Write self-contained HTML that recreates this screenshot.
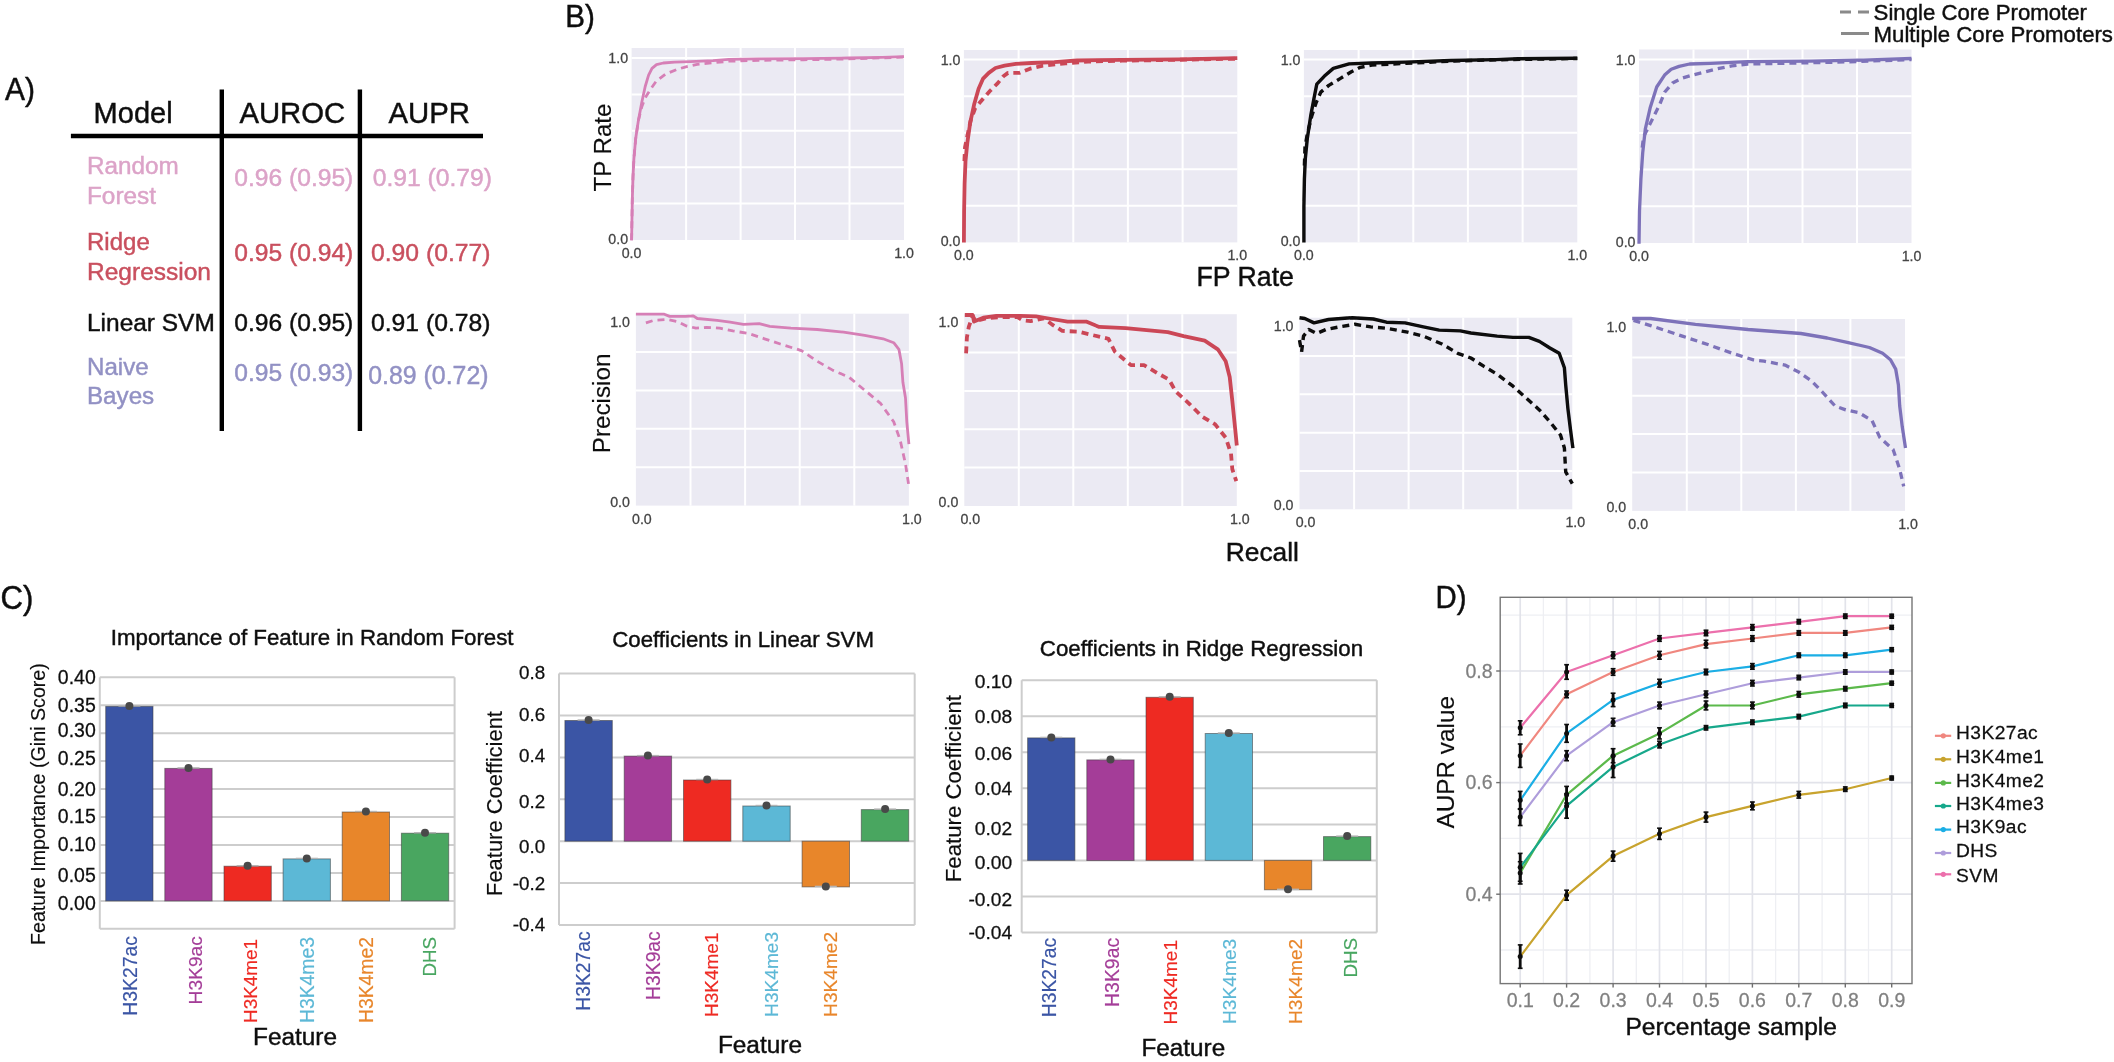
<!DOCTYPE html>
<html><head><meta charset="utf-8"><title>Figure</title>
<style>
html,body{margin:0;padding:0;background:#fff;}
svg{display:block;font-family:"Liberation Sans",Arial,Helvetica,sans-serif;}
</style></head><body>
<svg width="2114" height="1062" viewBox="0 0 2114 1062">
<defs><filter id="soft" x="0" y="0" width="2114" height="1062" filterUnits="userSpaceOnUse"><feGaussianBlur stdDeviation="0.55"/></filter></defs>
<rect width="2114" height="1062" fill="#ffffff"/>
<g filter="url(#soft)">
<text transform="translate(5.0 99.6) scale(1 1.07)" font-size="30.00" fill="#111" stroke="#111" stroke-width="0.45" >A)</text>
<text x="93.6" y="123.4" font-size="29.00" fill="#111" stroke="#111" stroke-width="0.45" >Model</text>
<text x="239.4" y="123.4" font-size="29.30" fill="#111" stroke="#111" stroke-width="0.45" >AUROC</text>
<text x="388.5" y="123.4" font-size="29.34" fill="#111" stroke="#111" stroke-width="0.45" >AUPR</text>
<line x1="70.9" y1="136.0" x2="483.0" y2="136.0" stroke="#000" stroke-width="4.4" />
<line x1="221.8" y1="89.4" x2="221.8" y2="431.0" stroke="#000" stroke-width="4.4" />
<line x1="359.9" y1="89.4" x2="359.9" y2="431.0" stroke="#000" stroke-width="4.4" />
<text x="87.0" y="174.0" font-size="24.29" fill="#dca3c8" stroke="#dca3c8" stroke-width="0.45" >Random</text>
<text x="87.0" y="203.5" font-size="24.35" fill="#dca3c8" stroke="#dca3c8" stroke-width="0.45" >Forest</text>
<text x="234.3" y="185.9" font-size="24.61" fill="#dca3c8" stroke="#dca3c8" stroke-width="0.45" >0.96 (0.95)</text>
<text x="372.7" y="186.0" font-size="24.67" fill="#dca3c8" stroke="#dca3c8" stroke-width="0.45" >0.91 (0.79)</text>
<text x="87.0" y="250.0" font-size="24.03" fill="#c9505e" stroke="#c9505e" stroke-width="0.45" >Ridge</text>
<text x="87.0" y="279.5" font-size="24.52" fill="#c9505e" stroke="#c9505e" stroke-width="0.45" >Regression</text>
<text x="234.3" y="261.0" font-size="24.61" fill="#c9505e" stroke="#c9505e" stroke-width="0.45" >0.95 (0.94)</text>
<text x="371.0" y="261.0" font-size="24.71" fill="#c9505e" stroke="#c9505e" stroke-width="0.45" >0.90 (0.77)</text>
<text x="87.0" y="331.0" font-size="24.46" fill="#111" stroke="#111" stroke-width="0.45" >Linear SVM</text>
<text x="234.3" y="331.0" font-size="24.61" fill="#111" stroke="#111" stroke-width="0.45" >0.96 (0.95)</text>
<text x="371.0" y="331.0" font-size="24.71" fill="#111" stroke="#111" stroke-width="0.45" >0.91 (0.78)</text>
<text x="87.0" y="375.0" font-size="24.13" fill="#9291c4" stroke="#9291c4" stroke-width="0.45" >Naive</text>
<text x="87.0" y="404.4" font-size="24.18" fill="#9291c4" stroke="#9291c4" stroke-width="0.45" >Bayes</text>
<text x="234.3" y="380.5" font-size="24.61" fill="#9291c4" stroke="#9291c4" stroke-width="0.45" >0.95 (0.93)</text>
<text x="368.3" y="384.0" font-size="24.86" fill="#9291c4" stroke="#9291c4" stroke-width="0.45" >0.89 (0.72)</text>
<text transform="translate(565.2 27.4) scale(1 1.05)" font-size="29.60" fill="#111" stroke="#111" stroke-width="0.45" >B)</text>
<rect x="631.6" y="48.0" width="272.4" height="192.0" fill="#ebeaf3" stroke="none" stroke-width="0" />
<line x1="686.1" y1="48.0" x2="686.1" y2="240.0" stroke="#fff" stroke-width="2" />
<line x1="740.6" y1="48.0" x2="740.6" y2="240.0" stroke="#fff" stroke-width="2" />
<line x1="795.0" y1="48.0" x2="795.0" y2="240.0" stroke="#fff" stroke-width="2" />
<line x1="849.5" y1="48.0" x2="849.5" y2="240.0" stroke="#fff" stroke-width="2" />
<line x1="631.6" y1="203.6" x2="904.0" y2="203.6" stroke="#fff" stroke-width="2" />
<line x1="631.6" y1="167.2" x2="904.0" y2="167.2" stroke="#fff" stroke-width="2" />
<line x1="631.6" y1="130.8" x2="904.0" y2="130.8" stroke="#fff" stroke-width="2" />
<line x1="631.6" y1="94.4" x2="904.0" y2="94.4" stroke="#fff" stroke-width="2" />
<line x1="631.6" y1="58.0" x2="904.0" y2="58.0" stroke="#fff" stroke-width="2" />
<rect x="963.9" y="50.0" width="273.4" height="192.4" fill="#ebeaf3" stroke="none" stroke-width="0" />
<line x1="1018.6" y1="50.0" x2="1018.6" y2="242.4" stroke="#fff" stroke-width="2" />
<line x1="1073.3" y1="50.0" x2="1073.3" y2="242.4" stroke="#fff" stroke-width="2" />
<line x1="1127.9" y1="50.0" x2="1127.9" y2="242.4" stroke="#fff" stroke-width="2" />
<line x1="1182.6" y1="50.0" x2="1182.6" y2="242.4" stroke="#fff" stroke-width="2" />
<line x1="963.9" y1="205.8" x2="1237.3" y2="205.8" stroke="#fff" stroke-width="2" />
<line x1="963.9" y1="169.3" x2="1237.3" y2="169.3" stroke="#fff" stroke-width="2" />
<line x1="963.9" y1="132.7" x2="1237.3" y2="132.7" stroke="#fff" stroke-width="2" />
<line x1="963.9" y1="96.2" x2="1237.3" y2="96.2" stroke="#fff" stroke-width="2" />
<line x1="963.9" y1="59.6" x2="1237.3" y2="59.6" stroke="#fff" stroke-width="2" />
<rect x="1303.9" y="50.0" width="273.4" height="192.4" fill="#ebeaf3" stroke="none" stroke-width="0" />
<line x1="1358.6" y1="50.0" x2="1358.6" y2="242.4" stroke="#fff" stroke-width="2" />
<line x1="1413.3" y1="50.0" x2="1413.3" y2="242.4" stroke="#fff" stroke-width="2" />
<line x1="1467.9" y1="50.0" x2="1467.9" y2="242.4" stroke="#fff" stroke-width="2" />
<line x1="1522.6" y1="50.0" x2="1522.6" y2="242.4" stroke="#fff" stroke-width="2" />
<line x1="1303.9" y1="205.8" x2="1577.3" y2="205.8" stroke="#fff" stroke-width="2" />
<line x1="1303.9" y1="169.3" x2="1577.3" y2="169.3" stroke="#fff" stroke-width="2" />
<line x1="1303.9" y1="132.7" x2="1577.3" y2="132.7" stroke="#fff" stroke-width="2" />
<line x1="1303.9" y1="96.2" x2="1577.3" y2="96.2" stroke="#fff" stroke-width="2" />
<line x1="1303.9" y1="59.6" x2="1577.3" y2="59.6" stroke="#fff" stroke-width="2" />
<rect x="1639.0" y="49.5" width="272.5" height="193.5" fill="#ebeaf3" stroke="none" stroke-width="0" />
<line x1="1693.5" y1="49.5" x2="1693.5" y2="243.0" stroke="#fff" stroke-width="2" />
<line x1="1748.0" y1="49.5" x2="1748.0" y2="243.0" stroke="#fff" stroke-width="2" />
<line x1="1802.5" y1="49.5" x2="1802.5" y2="243.0" stroke="#fff" stroke-width="2" />
<line x1="1857.0" y1="49.5" x2="1857.0" y2="243.0" stroke="#fff" stroke-width="2" />
<line x1="1639.0" y1="206.3" x2="1911.5" y2="206.3" stroke="#fff" stroke-width="2" />
<line x1="1639.0" y1="169.6" x2="1911.5" y2="169.6" stroke="#fff" stroke-width="2" />
<line x1="1639.0" y1="132.9" x2="1911.5" y2="132.9" stroke="#fff" stroke-width="2" />
<line x1="1639.0" y1="96.2" x2="1911.5" y2="96.2" stroke="#fff" stroke-width="2" />
<line x1="1639.0" y1="59.5" x2="1911.5" y2="59.5" stroke="#fff" stroke-width="2" />
<polyline points="631.6,240.2 631.9,222.1 632.3,199.5 633.0,176.9 633.9,158.8 635.7,138.5 638.4,120.4 641.8,106.8 645.2,97.8 650.8,88.8 656.5,80.8 665.5,74.1 676.8,69.5 685.9,66.8 697.2,64.4 713.0,62.8 728.8,61.2 758.2,60.3 803.4,59.8 848.6,58.9 904.0,57.1" fill="none" stroke="#d67fb6" stroke-width="2.8" stroke-linejoin="round" stroke-dasharray="7 5" />
<polyline points="631.6,240.2 631.9,222.1 632.3,199.5 633.0,176.9 633.9,158.8 635.7,138.5 638.4,120.4 641.8,102.3 645.2,86.5 648.6,75.2 652.0,68.4 656.5,64.6 663.3,63.0 674.6,62.1 690.4,61.6 713.0,60.7 728.8,59.4 758.2,58.9 803.4,58.7 848.6,58.0 882.5,57.3 904.0,56.7" fill="none" stroke="#d67fb6" stroke-width="2.8" stroke-linejoin="round"  />
<polyline points="964.4,161.1 965.0,147.5 967.3,136.2 970.7,120.4 975.2,108.0 982.0,100.1 989.9,91.0 997.8,83.1 1003.4,76.3 1008.0,72.9 1019.3,72.9 1029.4,68.9 1043.0,65.7 1065.6,63.4 1088.2,61.6 1122.1,60.7 1178.6,59.8 1237.3,58.7" fill="none" stroke="#cb4757" stroke-width="3.8" stroke-linejoin="round" stroke-dasharray="7 5" />
<polyline points="963.9,242.4 964.1,210.8 964.6,183.7 965.5,161.1 967.3,143.0 970.2,122.7 974.1,104.6 978.6,88.8 983.1,78.6 988.8,72.9 995.5,68.0 1004.6,65.7 1015.9,63.9 1031.7,63.0 1054.3,62.1 1076.9,60.5 1122.1,59.8 1178.6,59.4 1237.3,58.2" fill="none" stroke="#cb4757" stroke-width="3.8" stroke-linejoin="round"  />
<polyline points="1304.4,165.6 1305.0,147.5 1307.3,134.0 1311.8,115.9 1316.3,102.3 1320.8,92.1 1328.8,85.4 1340.1,78.6 1351.4,71.8 1360.4,67.3 1371.7,65.0 1405.6,63.4 1450.8,61.2 1496.0,59.8 1577.3,58.5" fill="none" stroke="#0a0a0a" stroke-width="3.4" stroke-linejoin="round" stroke-dasharray="7 5" />
<polyline points="1303.9,242.4 1303.9,206.3 1304.4,179.2 1305.3,158.8 1307.3,138.5 1310.7,115.9 1314.1,97.8 1316.8,84.2 1324.2,76.3 1333.3,68.4 1349.1,63.9 1371.7,63.0 1405.6,62.1 1450.8,60.5 1496.0,59.6 1518.6,58.7 1577.3,58.2" fill="none" stroke="#0a0a0a" stroke-width="3.4" stroke-linejoin="round"  />
<polyline points="1642.2,147.6 1643.5,137.1 1647.4,129.2 1652.7,118.6 1659.3,105.4 1664.6,92.3 1672.5,83.0 1681.7,78.3 1692.3,75.1 1702.8,72.5 1716.0,69.1 1731.8,65.9 1747.6,64.0 1784.5,63.3 1837.2,62.2 1911.5,59.6" fill="none" stroke="#7d72b9" stroke-width="3.3" stroke-linejoin="round" stroke-dasharray="7 5" />
<polyline points="1639.0,243.8 1639.5,210.9 1640.9,179.2 1642.7,152.9 1645.3,129.2 1650.1,108.1 1656.7,87.0 1664.6,75.1 1671.2,69.3 1679.1,66.4 1689.6,64.0 1710.7,63.3 1747.6,61.7 1810.9,61.1 1863.6,60.1 1911.5,58.5" fill="none" stroke="#7d72b9" stroke-width="3.3" stroke-linejoin="round"  />
<text x="628.1" y="63.0" font-size="14.20" fill="#444" stroke="#444" stroke-width="0.27" text-anchor="end" >1.0</text>
<text x="628.1" y="244.0" font-size="14.20" fill="#444" stroke="#444" stroke-width="0.27" text-anchor="end" >0.0</text>
<text x="631.6" y="258.0" font-size="14.20" fill="#444" stroke="#444" stroke-width="0.27" text-anchor="middle" >0.0</text>
<text x="904.0" y="258.0" font-size="14.20" fill="#444" stroke="#444" stroke-width="0.27" text-anchor="middle" >1.0</text>
<text x="960.4" y="64.6" font-size="14.20" fill="#444" stroke="#444" stroke-width="0.27" text-anchor="end" >1.0</text>
<text x="960.4" y="246.4" font-size="14.20" fill="#444" stroke="#444" stroke-width="0.27" text-anchor="end" >0.0</text>
<text x="963.9" y="260.4" font-size="14.20" fill="#444" stroke="#444" stroke-width="0.27" text-anchor="middle" >0.0</text>
<text x="1237.3" y="260.4" font-size="14.20" fill="#444" stroke="#444" stroke-width="0.27" text-anchor="middle" >1.0</text>
<text x="1300.4" y="64.6" font-size="14.20" fill="#444" stroke="#444" stroke-width="0.27" text-anchor="end" >1.0</text>
<text x="1300.4" y="246.4" font-size="14.20" fill="#444" stroke="#444" stroke-width="0.27" text-anchor="end" >0.0</text>
<text x="1303.9" y="260.4" font-size="14.20" fill="#444" stroke="#444" stroke-width="0.27" text-anchor="middle" >0.0</text>
<text x="1577.3" y="260.4" font-size="14.20" fill="#444" stroke="#444" stroke-width="0.27" text-anchor="middle" >1.0</text>
<text x="1635.5" y="64.5" font-size="14.20" fill="#444" stroke="#444" stroke-width="0.27" text-anchor="end" >1.0</text>
<text x="1635.5" y="247.0" font-size="14.20" fill="#444" stroke="#444" stroke-width="0.27" text-anchor="end" >0.0</text>
<text x="1639.0" y="261.0" font-size="14.20" fill="#444" stroke="#444" stroke-width="0.27" text-anchor="middle" >0.0</text>
<text x="1911.5" y="261.0" font-size="14.20" fill="#444" stroke="#444" stroke-width="0.27" text-anchor="middle" >1.0</text>
<text transform="translate(611.0 191.6) rotate(-90)" font-size="24.11" fill="#111" stroke="#111" stroke-width="0.16">TP Rate</text>
<text x="1196.5" y="286.2" font-size="26.71" fill="#111" stroke="#111" stroke-width="0.45" >FP Rate</text>
<rect x="635.9" y="313.7" width="273.0" height="191.9" fill="#ebeaf3" stroke="none" stroke-width="0" />
<line x1="690.5" y1="313.7" x2="690.5" y2="505.6" stroke="#fff" stroke-width="2" />
<line x1="745.1" y1="313.7" x2="745.1" y2="505.6" stroke="#fff" stroke-width="2" />
<line x1="799.7" y1="313.7" x2="799.7" y2="505.6" stroke="#fff" stroke-width="2" />
<line x1="854.3" y1="313.7" x2="854.3" y2="505.6" stroke="#fff" stroke-width="2" />
<line x1="635.9" y1="467.2" x2="908.9" y2="467.2" stroke="#fff" stroke-width="2" />
<line x1="635.9" y1="428.8" x2="908.9" y2="428.8" stroke="#fff" stroke-width="2" />
<line x1="635.9" y1="390.5" x2="908.9" y2="390.5" stroke="#fff" stroke-width="2" />
<line x1="635.9" y1="352.1" x2="908.9" y2="352.1" stroke="#fff" stroke-width="2" />
<rect x="964.3" y="314.2" width="272.5" height="191.8" fill="#ebeaf3" stroke="none" stroke-width="0" />
<line x1="1018.8" y1="314.2" x2="1018.8" y2="506.0" stroke="#fff" stroke-width="2" />
<line x1="1073.3" y1="314.2" x2="1073.3" y2="506.0" stroke="#fff" stroke-width="2" />
<line x1="1127.8" y1="314.2" x2="1127.8" y2="506.0" stroke="#fff" stroke-width="2" />
<line x1="1182.3" y1="314.2" x2="1182.3" y2="506.0" stroke="#fff" stroke-width="2" />
<line x1="964.3" y1="467.6" x2="1236.8" y2="467.6" stroke="#fff" stroke-width="2" />
<line x1="964.3" y1="429.3" x2="1236.8" y2="429.3" stroke="#fff" stroke-width="2" />
<line x1="964.3" y1="390.9" x2="1236.8" y2="390.9" stroke="#fff" stroke-width="2" />
<line x1="964.3" y1="352.6" x2="1236.8" y2="352.6" stroke="#fff" stroke-width="2" />
<rect x="1299.5" y="317.7" width="272.8" height="191.6" fill="#ebeaf3" stroke="none" stroke-width="0" />
<line x1="1354.1" y1="317.7" x2="1354.1" y2="509.3" stroke="#fff" stroke-width="2" />
<line x1="1408.6" y1="317.7" x2="1408.6" y2="509.3" stroke="#fff" stroke-width="2" />
<line x1="1463.2" y1="317.7" x2="1463.2" y2="509.3" stroke="#fff" stroke-width="2" />
<line x1="1517.7" y1="317.7" x2="1517.7" y2="509.3" stroke="#fff" stroke-width="2" />
<line x1="1299.5" y1="471.0" x2="1572.3" y2="471.0" stroke="#fff" stroke-width="2" />
<line x1="1299.5" y1="432.7" x2="1572.3" y2="432.7" stroke="#fff" stroke-width="2" />
<line x1="1299.5" y1="394.3" x2="1572.3" y2="394.3" stroke="#fff" stroke-width="2" />
<line x1="1299.5" y1="356.0" x2="1572.3" y2="356.0" stroke="#fff" stroke-width="2" />
<rect x="1632.2" y="319.0" width="272.8" height="191.9" fill="#ebeaf3" stroke="none" stroke-width="0" />
<line x1="1686.8" y1="319.0" x2="1686.8" y2="510.9" stroke="#fff" stroke-width="2" />
<line x1="1741.3" y1="319.0" x2="1741.3" y2="510.9" stroke="#fff" stroke-width="2" />
<line x1="1795.9" y1="319.0" x2="1795.9" y2="510.9" stroke="#fff" stroke-width="2" />
<line x1="1850.4" y1="319.0" x2="1850.4" y2="510.9" stroke="#fff" stroke-width="2" />
<line x1="1632.2" y1="472.5" x2="1905.0" y2="472.5" stroke="#fff" stroke-width="2" />
<line x1="1632.2" y1="434.1" x2="1905.0" y2="434.1" stroke="#fff" stroke-width="2" />
<line x1="1632.2" y1="395.8" x2="1905.0" y2="395.8" stroke="#fff" stroke-width="2" />
<line x1="1632.2" y1="357.4" x2="1905.0" y2="357.4" stroke="#fff" stroke-width="2" />
<polyline points="645.9,322.9 653.8,320.3 667.0,319.5 677.5,321.6 685.4,325.6 696.0,328.2 706.5,327.4 719.7,328.2 732.9,330.9 748.7,333.5 764.5,338.8 780.3,344.0 801.4,350.6 817.2,361.2 833.0,370.4 848.8,377.0 864.7,390.2 880.5,403.3 893.7,421.8 900.2,440.2 905.5,464.0 908.9,486.4" fill="none" stroke="#d67fb6" stroke-width="2.8" stroke-linejoin="round" stroke-dasharray="7 5" />
<polyline points="635.9,314.2 664.3,314.2 669.6,316.4 685.4,316.4 693.3,315.8 697.3,318.5 717.1,320.3 730.2,322.2 743.4,324.3 759.2,323.7 769.8,326.4 790.9,328.2 817.2,329.5 843.6,332.2 864.7,335.3 883.1,338.8 893.7,342.7 898.9,349.3 901.6,363.8 902.9,382.3 905.5,398.1 906.8,421.8 908.9,444.2" fill="none" stroke="#d67fb6" stroke-width="2.8" stroke-linejoin="round"  />
<polyline points="966.1,353.3 966.9,337.4 968.8,326.9 972.7,315.8 975.4,321.1 985.9,318.5 999.1,317.1 1017.5,317.1 1022.8,320.3 1030.7,321.1 1043.9,318.5 1051.8,324.3 1062.3,330.9 1078.1,331.6 1091.3,334.8 1108.5,338.8 1115.0,351.9 1130.9,365.1 1144.0,365.1 1157.2,373.0 1169.1,379.6 1175.7,391.5 1188.8,403.3 1202.0,416.5 1215.2,424.4 1225.7,437.6 1231.0,453.4 1232.3,469.2 1236.3,481.1" fill="none" stroke="#cb4757" stroke-width="3.8" stroke-linejoin="round" stroke-dasharray="7 5" />
<polyline points="964.8,315.0 972.7,315.0 974.0,321.6 983.3,317.7 996.4,315.8 1020.2,315.8 1036.0,316.4 1051.8,319.0 1067.6,321.6 1086.1,321.6 1099.2,326.9 1125.6,328.2 1146.7,330.1 1167.8,332.2 1183.6,336.1 1204.7,340.6 1217.8,349.3 1225.7,361.2 1229.7,377.0 1232.3,400.7 1235.0,427.1 1236.8,445.5" fill="none" stroke="#cb4757" stroke-width="3.8" stroke-linejoin="round"  />
<polyline points="1299.5,340.1 1301.6,351.9 1303.5,336.1 1308.8,329.5 1316.7,333.5 1325.9,329.5 1339.1,326.9 1354.9,324.3 1370.7,326.9 1386.5,328.2 1407.6,332.2 1423.4,336.1 1441.9,344.0 1457.7,353.3 1470.9,358.0 1484.0,366.4 1497.2,374.3 1513.0,386.2 1526.2,398.1 1539.4,409.9 1549.9,421.8 1560.5,435.0 1564.4,448.1 1565.7,471.9 1572.3,483.7" fill="none" stroke="#0a0a0a" stroke-width="3.4" stroke-linejoin="round" stroke-dasharray="7 5" />
<polyline points="1299.5,317.7 1304.8,318.5 1314.0,322.9 1328.5,319.5 1352.3,317.7 1373.3,319.0 1386.5,322.2 1405.0,322.9 1423.4,326.9 1439.2,330.1 1460.3,330.9 1470.9,333.0 1497.2,336.1 1513.0,337.4 1528.8,337.4 1539.4,341.4 1549.9,348.0 1559.2,353.3 1564.4,367.8 1565.7,384.9 1567.9,408.6 1570.5,429.7 1572.9,448.1" fill="none" stroke="#0a0a0a" stroke-width="3.4" stroke-linejoin="round"  />
<polyline points="1633.5,320.3 1650.6,325.6 1682.3,336.1 1708.6,344.8 1732.3,353.3 1753.4,359.8 1764.0,361.2 1785.0,365.1 1798.2,371.7 1811.4,380.9 1821.9,391.5 1835.1,406.0 1845.7,409.9 1858.8,412.6 1872.0,420.5 1879.9,437.6 1893.1,449.5 1899.7,469.2 1903.7,486.4" fill="none" stroke="#7d72b9" stroke-width="3.3" stroke-linejoin="round" stroke-dasharray="7 5" />
<polyline points="1632.2,318.5 1650.6,318.5 1695.4,324.3 1748.1,329.5 1800.9,333.5 1827.2,338.0 1848.3,342.7 1869.4,347.5 1882.6,353.3 1890.5,359.8 1895.7,369.1 1898.4,384.9 1899.7,406.0 1902.3,427.1 1905.5,448.1" fill="none" stroke="#7d72b9" stroke-width="3.3" stroke-linejoin="round"  />
<text x="629.9" y="326.7" font-size="14.20" fill="#444" stroke="#444" stroke-width="0.27" text-anchor="end" >1.0</text>
<text x="629.9" y="506.6" font-size="14.20" fill="#444" stroke="#444" stroke-width="0.27" text-anchor="end" >0.0</text>
<text x="641.9" y="523.6" font-size="14.20" fill="#444" stroke="#444" stroke-width="0.27" text-anchor="middle" >0.0</text>
<text x="911.9" y="523.6" font-size="14.20" fill="#444" stroke="#444" stroke-width="0.27" text-anchor="middle" >1.0</text>
<text x="958.3" y="327.2" font-size="14.20" fill="#444" stroke="#444" stroke-width="0.27" text-anchor="end" >1.0</text>
<text x="958.3" y="507.0" font-size="14.20" fill="#444" stroke="#444" stroke-width="0.27" text-anchor="end" >0.0</text>
<text x="970.3" y="524.0" font-size="14.20" fill="#444" stroke="#444" stroke-width="0.27" text-anchor="middle" >0.0</text>
<text x="1239.8" y="524.0" font-size="14.20" fill="#444" stroke="#444" stroke-width="0.27" text-anchor="middle" >1.0</text>
<text x="1293.5" y="330.7" font-size="14.20" fill="#444" stroke="#444" stroke-width="0.27" text-anchor="end" >1.0</text>
<text x="1293.5" y="510.3" font-size="14.20" fill="#444" stroke="#444" stroke-width="0.27" text-anchor="end" >0.0</text>
<text x="1305.5" y="527.3" font-size="14.20" fill="#444" stroke="#444" stroke-width="0.27" text-anchor="middle" >0.0</text>
<text x="1575.3" y="527.3" font-size="14.20" fill="#444" stroke="#444" stroke-width="0.27" text-anchor="middle" >1.0</text>
<text x="1626.2" y="332.0" font-size="14.20" fill="#444" stroke="#444" stroke-width="0.27" text-anchor="end" >1.0</text>
<text x="1626.2" y="511.9" font-size="14.20" fill="#444" stroke="#444" stroke-width="0.27" text-anchor="end" >0.0</text>
<text x="1638.2" y="528.9" font-size="14.20" fill="#444" stroke="#444" stroke-width="0.27" text-anchor="middle" >0.0</text>
<text x="1908.0" y="528.9" font-size="14.20" fill="#444" stroke="#444" stroke-width="0.27" text-anchor="middle" >1.0</text>
<text transform="translate(610.0 453.2) rotate(-90)" font-size="24.22" fill="#111" stroke="#111" stroke-width="0.16">Precision</text>
<text x="1225.8" y="561.0" font-size="26.34" fill="#111" stroke="#111" stroke-width="0.45" >Recall</text>
<line x1="1840.0" y1="12.0" x2="1869.0" y2="12.0" stroke="#8a8a8a" stroke-width="3" stroke-dasharray="11 7"/>
<line x1="1841.0" y1="33.5" x2="1869.0" y2="33.5" stroke="#8a8a8a" stroke-width="3" />
<text x="1873.6" y="19.5" font-size="22.19" fill="#111" stroke="#111" stroke-width="0.45" >Single Core Promoter</text>
<text x="1873.6" y="42.0" font-size="22.21" fill="#111" stroke="#111" stroke-width="0.45" >Multiple Core Promoters</text>
<text transform="translate(0.6 608.5) scale(1 1.04)" font-size="31.18" fill="#111" stroke="#111" stroke-width="0.45" >C)</text>
<line x1="99.8" y1="677.3" x2="454.6" y2="677.3" stroke="#cdcdcd" stroke-width="2" />
<line x1="99.8" y1="705.2" x2="454.6" y2="705.2" stroke="#cdcdcd" stroke-width="2" />
<line x1="99.8" y1="733.2" x2="454.6" y2="733.2" stroke="#cdcdcd" stroke-width="2" />
<line x1="99.8" y1="761.1" x2="454.6" y2="761.1" stroke="#cdcdcd" stroke-width="2" />
<line x1="99.8" y1="789.1" x2="454.6" y2="789.1" stroke="#cdcdcd" stroke-width="2" />
<line x1="99.8" y1="817.0" x2="454.6" y2="817.0" stroke="#cdcdcd" stroke-width="2" />
<line x1="99.8" y1="845.0" x2="454.6" y2="845.0" stroke="#cdcdcd" stroke-width="2" />
<line x1="99.8" y1="872.9" x2="454.6" y2="872.9" stroke="#cdcdcd" stroke-width="2" />
<line x1="99.8" y1="900.9" x2="454.6" y2="900.9" stroke="#cdcdcd" stroke-width="2" />
<line x1="99.8" y1="928.8" x2="454.6" y2="928.8" stroke="#cdcdcd" stroke-width="2" />
<line x1="99.8" y1="677.3" x2="99.8" y2="928.8" stroke="#cdcdcd" stroke-width="2" />
<line x1="454.6" y1="677.3" x2="454.6" y2="928.8" stroke="#cdcdcd" stroke-width="2" />
<rect x="105.7" y="706.4" width="47.3" height="194.5" fill="#3b55a5" stroke="rgba(60,60,60,0.55)" stroke-width="1" />
<line x1="118.4" y1="705.9" x2="140.4" y2="705.9" stroke="#b4b4b4" stroke-width="1.4" />
<circle cx="129.4" cy="705.9" r="4" fill="#4a4a4a"/>
<rect x="164.8" y="768.4" width="47.3" height="132.5" fill="#a43e98" stroke="rgba(60,60,60,0.55)" stroke-width="1" />
<line x1="177.5" y1="767.9" x2="199.5" y2="767.9" stroke="#b4b4b4" stroke-width="1.4" />
<circle cx="188.5" cy="767.9" r="4" fill="#4a4a4a"/>
<rect x="224.0" y="866.2" width="47.3" height="34.7" fill="#ee2a24" stroke="rgba(60,60,60,0.55)" stroke-width="1" />
<line x1="236.6" y1="865.7" x2="258.6" y2="865.7" stroke="#b4b4b4" stroke-width="1.4" />
<circle cx="247.6" cy="865.7" r="4" fill="#4a4a4a"/>
<rect x="283.1" y="858.9" width="47.3" height="41.9" fill="#5cb8d6" stroke="rgba(60,60,60,0.55)" stroke-width="1" />
<line x1="295.8" y1="858.4" x2="317.8" y2="858.4" stroke="#b4b4b4" stroke-width="1.4" />
<circle cx="306.8" cy="858.4" r="4" fill="#4a4a4a"/>
<rect x="342.2" y="812.0" width="47.3" height="88.9" fill="#e8862b" stroke="rgba(60,60,60,0.55)" stroke-width="1" />
<line x1="354.9" y1="811.5" x2="376.9" y2="811.5" stroke="#b4b4b4" stroke-width="1.4" />
<circle cx="365.9" cy="811.5" r="4" fill="#4a4a4a"/>
<rect x="401.4" y="833.2" width="47.3" height="67.6" fill="#48a661" stroke="rgba(60,60,60,0.55)" stroke-width="1" />
<line x1="414.0" y1="832.7" x2="436.0" y2="832.7" stroke="#b4b4b4" stroke-width="1.4" />
<circle cx="425.0" cy="832.7" r="4" fill="#4a4a4a"/>
<text x="95.8" y="683.6" font-size="19.50" fill="#111" stroke="#111" stroke-width="0.27" text-anchor="end" >0.40</text>
<text x="95.8" y="711.6" font-size="19.50" fill="#111" stroke="#111" stroke-width="0.27" text-anchor="end" >0.35</text>
<text x="95.8" y="737.0" font-size="19.50" fill="#111" stroke="#111" stroke-width="0.27" text-anchor="end" >0.30</text>
<text x="95.8" y="765.0" font-size="19.50" fill="#111" stroke="#111" stroke-width="0.27" text-anchor="end" >0.25</text>
<text x="95.8" y="795.9" font-size="19.50" fill="#111" stroke="#111" stroke-width="0.27" text-anchor="end" >0.20</text>
<text x="95.8" y="823.1" font-size="19.50" fill="#111" stroke="#111" stroke-width="0.27" text-anchor="end" >0.15</text>
<text x="95.8" y="851.1" font-size="19.50" fill="#111" stroke="#111" stroke-width="0.27" text-anchor="end" >0.10</text>
<text x="95.8" y="881.7" font-size="19.50" fill="#111" stroke="#111" stroke-width="0.27" text-anchor="end" >0.05</text>
<text x="95.8" y="909.7" font-size="19.50" fill="#111" stroke="#111" stroke-width="0.27" text-anchor="end" >0.00</text>
<line x1="559.0" y1="673.6" x2="914.7" y2="673.6" stroke="#cdcdcd" stroke-width="2" />
<line x1="559.0" y1="715.5" x2="914.7" y2="715.5" stroke="#cdcdcd" stroke-width="2" />
<line x1="559.0" y1="757.4" x2="914.7" y2="757.4" stroke="#cdcdcd" stroke-width="2" />
<line x1="559.0" y1="799.3" x2="914.7" y2="799.3" stroke="#cdcdcd" stroke-width="2" />
<line x1="559.0" y1="841.2" x2="914.7" y2="841.2" stroke="#cdcdcd" stroke-width="2" />
<line x1="559.0" y1="883.1" x2="914.7" y2="883.1" stroke="#cdcdcd" stroke-width="2" />
<line x1="559.0" y1="925.0" x2="914.7" y2="925.0" stroke="#cdcdcd" stroke-width="2" />
<line x1="559.0" y1="673.6" x2="559.0" y2="925.0" stroke="#cdcdcd" stroke-width="2" />
<line x1="914.7" y1="673.6" x2="914.7" y2="925.0" stroke="#cdcdcd" stroke-width="2" />
<rect x="564.9" y="720.5" width="47.4" height="120.7" fill="#3b55a5" stroke="rgba(60,60,60,0.55)" stroke-width="1" />
<line x1="577.6" y1="720.0" x2="599.6" y2="720.0" stroke="#b4b4b4" stroke-width="1.4" />
<circle cx="588.6" cy="720.0" r="4" fill="#4a4a4a"/>
<rect x="624.2" y="756.1" width="47.4" height="85.1" fill="#a43e98" stroke="rgba(60,60,60,0.55)" stroke-width="1" />
<line x1="636.9" y1="755.6" x2="658.9" y2="755.6" stroke="#b4b4b4" stroke-width="1.4" />
<circle cx="647.9" cy="755.6" r="4" fill="#4a4a4a"/>
<rect x="683.5" y="780.0" width="47.4" height="61.2" fill="#ee2a24" stroke="rgba(60,60,60,0.55)" stroke-width="1" />
<line x1="696.2" y1="779.5" x2="718.2" y2="779.5" stroke="#b4b4b4" stroke-width="1.4" />
<circle cx="707.2" cy="779.5" r="4" fill="#4a4a4a"/>
<rect x="742.8" y="806.0" width="47.4" height="35.2" fill="#5cb8d6" stroke="rgba(60,60,60,0.55)" stroke-width="1" />
<line x1="755.5" y1="805.5" x2="777.5" y2="805.5" stroke="#b4b4b4" stroke-width="1.4" />
<circle cx="766.5" cy="805.5" r="4" fill="#4a4a4a"/>
<rect x="802.1" y="841.2" width="47.4" height="45.7" fill="#e8862b" stroke="rgba(60,60,60,0.55)" stroke-width="1" />
<line x1="814.8" y1="886.4" x2="836.8" y2="886.4" stroke="#b4b4b4" stroke-width="1.4" />
<circle cx="825.8" cy="886.4" r="4" fill="#4a4a4a"/>
<rect x="861.3" y="809.6" width="47.4" height="31.6" fill="#48a661" stroke="rgba(60,60,60,0.55)" stroke-width="1" />
<line x1="874.1" y1="809.1" x2="896.1" y2="809.1" stroke="#b4b4b4" stroke-width="1.4" />
<circle cx="885.1" cy="809.1" r="4" fill="#4a4a4a"/>
<text x="545.2" y="679.2" font-size="18.80" fill="#111" stroke="#111" stroke-width="0.27" text-anchor="end" >0.8</text>
<text x="545.2" y="720.5" font-size="18.80" fill="#111" stroke="#111" stroke-width="0.27" text-anchor="end" >0.6</text>
<text x="545.2" y="762.4" font-size="18.80" fill="#111" stroke="#111" stroke-width="0.27" text-anchor="end" >0.4</text>
<text x="545.2" y="807.5" font-size="18.80" fill="#111" stroke="#111" stroke-width="0.27" text-anchor="end" >0.2</text>
<text x="545.2" y="853.3" font-size="18.80" fill="#111" stroke="#111" stroke-width="0.27" text-anchor="end" >0.0</text>
<text x="545.2" y="889.7" font-size="18.80" fill="#111" stroke="#111" stroke-width="0.27" text-anchor="end" >-0.2</text>
<text x="545.2" y="930.6" font-size="18.80" fill="#111" stroke="#111" stroke-width="0.27" text-anchor="end" >-0.4</text>
<line x1="1021.7" y1="680.2" x2="1376.8" y2="680.2" stroke="#cdcdcd" stroke-width="2" />
<line x1="1021.7" y1="716.2" x2="1376.8" y2="716.2" stroke="#cdcdcd" stroke-width="2" />
<line x1="1021.7" y1="752.3" x2="1376.8" y2="752.3" stroke="#cdcdcd" stroke-width="2" />
<line x1="1021.7" y1="788.3" x2="1376.8" y2="788.3" stroke="#cdcdcd" stroke-width="2" />
<line x1="1021.7" y1="824.4" x2="1376.8" y2="824.4" stroke="#cdcdcd" stroke-width="2" />
<line x1="1021.7" y1="860.4" x2="1376.8" y2="860.4" stroke="#cdcdcd" stroke-width="2" />
<line x1="1021.7" y1="896.5" x2="1376.8" y2="896.5" stroke="#cdcdcd" stroke-width="2" />
<line x1="1021.7" y1="932.5" x2="1376.8" y2="932.5" stroke="#cdcdcd" stroke-width="2" />
<line x1="1021.7" y1="680.2" x2="1021.7" y2="932.5" stroke="#cdcdcd" stroke-width="2" />
<line x1="1376.8" y1="680.2" x2="1376.8" y2="932.5" stroke="#cdcdcd" stroke-width="2" />
<rect x="1027.6" y="737.9" width="47.3" height="122.5" fill="#3b55a5" stroke="rgba(60,60,60,0.55)" stroke-width="1" />
<line x1="1040.3" y1="737.4" x2="1062.3" y2="737.4" stroke="#b4b4b4" stroke-width="1.4" />
<circle cx="1051.3" cy="737.4" r="4" fill="#4a4a4a"/>
<rect x="1086.8" y="759.9" width="47.3" height="100.6" fill="#a43e98" stroke="rgba(60,60,60,0.55)" stroke-width="1" />
<line x1="1099.5" y1="759.4" x2="1121.5" y2="759.4" stroke="#b4b4b4" stroke-width="1.4" />
<circle cx="1110.5" cy="759.4" r="4" fill="#4a4a4a"/>
<rect x="1146.0" y="697.3" width="47.3" height="163.1" fill="#ee2a24" stroke="rgba(60,60,60,0.55)" stroke-width="1" />
<line x1="1158.7" y1="696.8" x2="1180.7" y2="696.8" stroke="#b4b4b4" stroke-width="1.4" />
<circle cx="1169.7" cy="696.8" r="4" fill="#4a4a4a"/>
<rect x="1205.2" y="733.5" width="47.3" height="126.9" fill="#5cb8d6" stroke="rgba(60,60,60,0.55)" stroke-width="1" />
<line x1="1217.8" y1="733.0" x2="1239.8" y2="733.0" stroke="#b4b4b4" stroke-width="1.4" />
<circle cx="1228.8" cy="733.0" r="4" fill="#4a4a4a"/>
<rect x="1264.4" y="860.4" width="47.3" height="29.4" fill="#e8862b" stroke="rgba(60,60,60,0.55)" stroke-width="1" />
<line x1="1277.0" y1="889.3" x2="1299.0" y2="889.3" stroke="#b4b4b4" stroke-width="1.4" />
<circle cx="1288.0" cy="889.3" r="4" fill="#4a4a4a"/>
<rect x="1323.5" y="836.6" width="47.3" height="23.8" fill="#48a661" stroke="rgba(60,60,60,0.55)" stroke-width="1" />
<line x1="1336.2" y1="836.1" x2="1358.2" y2="836.1" stroke="#b4b4b4" stroke-width="1.4" />
<circle cx="1347.2" cy="836.1" r="4" fill="#4a4a4a"/>
<text x="1012.2" y="687.7" font-size="19.20" fill="#111" stroke="#111" stroke-width="0.27" text-anchor="end" >0.10</text>
<text x="1012.2" y="723.3" font-size="19.20" fill="#111" stroke="#111" stroke-width="0.27" text-anchor="end" >0.08</text>
<text x="1012.2" y="759.5" font-size="19.20" fill="#111" stroke="#111" stroke-width="0.27" text-anchor="end" >0.06</text>
<text x="1012.2" y="795.0" font-size="19.20" fill="#111" stroke="#111" stroke-width="0.27" text-anchor="end" >0.04</text>
<text x="1012.2" y="834.6" font-size="19.20" fill="#111" stroke="#111" stroke-width="0.27" text-anchor="end" >0.02</text>
<text x="1012.2" y="868.7" font-size="19.20" fill="#111" stroke="#111" stroke-width="0.27" text-anchor="end" >0.00</text>
<text x="1012.2" y="905.9" font-size="19.20" fill="#111" stroke="#111" stroke-width="0.27" text-anchor="end" >-0.02</text>
<text x="1012.2" y="939.2" font-size="19.20" fill="#111" stroke="#111" stroke-width="0.27" text-anchor="end" >-0.04</text>
<text x="110.8" y="644.8" font-size="22.31" fill="#111" stroke="#111" stroke-width="0.45" >Importance of Feature in Random Forest</text>
<text x="612.2" y="646.7" font-size="22.26" fill="#111" stroke="#111" stroke-width="0.45" >Coefficients in Linear SVM</text>
<text x="1039.8" y="656.0" font-size="22.32" fill="#111" stroke="#111" stroke-width="0.45" >Coefficients in Ridge Regression</text>
<text transform="translate(45.0 945.0) rotate(-90)" font-size="19.67" fill="#111" stroke="#111" stroke-width="0.16">Feature Importance (Gini Score)</text>
<text transform="translate(502.0 896.0) rotate(-90)" font-size="21.94" fill="#111" stroke="#111" stroke-width="0.16">Feature Coefficient</text>
<text transform="translate(960.5 882.3) rotate(-90)" font-size="22.22" fill="#111" stroke="#111" stroke-width="0.16">Feature Coefficient</text>
<text transform="translate(136.8 1015.8) rotate(-90)" font-size="19.40" fill="#3b55a5" stroke="#3b55a5" stroke-width="0.16">H3K27ac</text>
<text transform="translate(201.5 1004.4) rotate(-90)" font-size="19.22" fill="#a43e98" stroke="#a43e98" stroke-width="0.16">H3K9ac</text>
<text transform="translate(256.9 1023.0) rotate(-90)" font-size="18.93" fill="#ee2a24" stroke="#ee2a24" stroke-width="0.16">H3K4me1</text>
<text transform="translate(313.7 1023.0) rotate(-90)" font-size="19.34" fill="#5cb8d6" stroke="#5cb8d6" stroke-width="0.16">H3K4me3</text>
<text transform="translate(372.9 1023.0) rotate(-90)" font-size="19.34" fill="#e8862b" stroke="#e8862b" stroke-width="0.16">H3K4me2</text>
<text transform="translate(435.7 976.6) rotate(-90)" font-size="18.76" fill="#48a661" stroke="#48a661" stroke-width="0.16">DHS</text>
<text transform="translate(590.1 1010.7) rotate(-90)" font-size="19.32" fill="#3b55a5" stroke="#3b55a5" stroke-width="0.16">H3K27ac</text>
<text transform="translate(659.6 999.9) rotate(-90)" font-size="19.31" fill="#a43e98" stroke="#a43e98" stroke-width="0.16">H3K9ac</text>
<text transform="translate(717.5 1016.9) rotate(-90)" font-size="18.98" fill="#ee2a24" stroke="#ee2a24" stroke-width="0.16">H3K4me1</text>
<text transform="translate(778.0 1016.9) rotate(-90)" font-size="19.14" fill="#5cb8d6" stroke="#5cb8d6" stroke-width="0.16">H3K4me3</text>
<text transform="translate(837.1 1016.9) rotate(-90)" font-size="19.14" fill="#e8862b" stroke="#e8862b" stroke-width="0.16">H3K4me2</text>
<text transform="translate(1056.4 1017.3) rotate(-90)" font-size="19.32" fill="#3b55a5" stroke="#3b55a5" stroke-width="0.16">H3K27ac</text>
<text transform="translate(1119.2 1006.9) rotate(-90)" font-size="19.42" fill="#a43e98" stroke="#a43e98" stroke-width="0.16">H3K9ac</text>
<text transform="translate(1176.9 1024.5) rotate(-90)" font-size="19.00" fill="#ee2a24" stroke="#ee2a24" stroke-width="0.16">H3K4me1</text>
<text transform="translate(1235.6 1024.0) rotate(-90)" font-size="19.16" fill="#5cb8d6" stroke="#5cb8d6" stroke-width="0.16">H3K4me3</text>
<text transform="translate(1301.8 1024.0) rotate(-90)" font-size="19.16" fill="#e8862b" stroke="#e8862b" stroke-width="0.16">H3K4me2</text>
<text transform="translate(1357.2 977.6) rotate(-90)" font-size="18.85" fill="#48a661" stroke="#48a661" stroke-width="0.16">DHS</text>
<text x="253.0" y="1044.7" font-size="24.38" fill="#111" stroke="#111" stroke-width="0.45" >Feature</text>
<text x="717.9" y="1053.3" font-size="24.41" fill="#111" stroke="#111" stroke-width="0.45" >Feature</text>
<text x="1141.5" y="1056.1" font-size="24.29" fill="#111" stroke="#111" stroke-width="0.45" >Feature</text>
<text transform="translate(1435.5 608.0) scale(1 1.05)" font-size="29.38" fill="#111" stroke="#111" stroke-width="0.45" >D)</text>
<line x1="1543.4" y1="597.3" x2="1543.4" y2="983.6" stroke="#eeeff3" stroke-width="1.3" />
<line x1="1589.9" y1="597.3" x2="1589.9" y2="983.6" stroke="#eeeff3" stroke-width="1.3" />
<line x1="1636.3" y1="597.3" x2="1636.3" y2="983.6" stroke="#eeeff3" stroke-width="1.3" />
<line x1="1682.7" y1="597.3" x2="1682.7" y2="983.6" stroke="#eeeff3" stroke-width="1.3" />
<line x1="1729.2" y1="597.3" x2="1729.2" y2="983.6" stroke="#eeeff3" stroke-width="1.3" />
<line x1="1775.6" y1="597.3" x2="1775.6" y2="983.6" stroke="#eeeff3" stroke-width="1.3" />
<line x1="1822.1" y1="597.3" x2="1822.1" y2="983.6" stroke="#eeeff3" stroke-width="1.3" />
<line x1="1868.5" y1="597.3" x2="1868.5" y2="983.6" stroke="#eeeff3" stroke-width="1.3" />
<line x1="1500.2" y1="950.0" x2="1912.0" y2="950.0" stroke="#eeeff3" stroke-width="1.3" />
<line x1="1500.2" y1="838.4" x2="1912.0" y2="838.4" stroke="#eeeff3" stroke-width="1.3" />
<line x1="1500.2" y1="726.8" x2="1912.0" y2="726.8" stroke="#eeeff3" stroke-width="1.3" />
<line x1="1500.2" y1="615.2" x2="1912.0" y2="615.2" stroke="#eeeff3" stroke-width="1.3" />
<line x1="1520.2" y1="597.3" x2="1520.2" y2="983.6" stroke="#e2e3ea" stroke-width="1.7" />
<line x1="1566.6" y1="597.3" x2="1566.6" y2="983.6" stroke="#e2e3ea" stroke-width="1.7" />
<line x1="1613.1" y1="597.3" x2="1613.1" y2="983.6" stroke="#e2e3ea" stroke-width="1.7" />
<line x1="1659.5" y1="597.3" x2="1659.5" y2="983.6" stroke="#e2e3ea" stroke-width="1.7" />
<line x1="1706.0" y1="597.3" x2="1706.0" y2="983.6" stroke="#e2e3ea" stroke-width="1.7" />
<line x1="1752.4" y1="597.3" x2="1752.4" y2="983.6" stroke="#e2e3ea" stroke-width="1.7" />
<line x1="1798.8" y1="597.3" x2="1798.8" y2="983.6" stroke="#e2e3ea" stroke-width="1.7" />
<line x1="1845.3" y1="597.3" x2="1845.3" y2="983.6" stroke="#e2e3ea" stroke-width="1.7" />
<line x1="1891.7" y1="597.3" x2="1891.7" y2="983.6" stroke="#e2e3ea" stroke-width="1.7" />
<line x1="1500.2" y1="894.2" x2="1912.0" y2="894.2" stroke="#e2e3ea" stroke-width="1.7" />
<line x1="1500.2" y1="782.6" x2="1912.0" y2="782.6" stroke="#e2e3ea" stroke-width="1.7" />
<line x1="1500.2" y1="671.0" x2="1912.0" y2="671.0" stroke="#e2e3ea" stroke-width="1.7" />
<polyline points="1520.2,727.8 1566.6,672.0 1613.1,655.3 1659.5,638.5 1706.0,632.9 1752.4,627.4 1798.8,621.8 1845.3,616.2 1891.7,616.2" fill="none" stroke="#ec6fac" stroke-width="2.2" stroke-linejoin="round"  />
<polyline points="1520.2,755.7 1566.6,694.3 1613.1,672.0 1659.5,655.3 1706.0,644.1 1752.4,638.5 1798.8,632.9 1845.3,632.9 1891.7,627.4" fill="none" stroke="#f0877f" stroke-width="2.2" stroke-linejoin="round"  />
<polyline points="1520.2,800.3 1566.6,733.4 1613.1,699.9 1659.5,683.2 1706.0,672.0 1752.4,666.4 1798.8,655.3 1845.3,655.3 1891.7,649.7" fill="none" stroke="#1aaee5" stroke-width="2.2" stroke-linejoin="round"  />
<polyline points="1520.2,817.1 1566.6,755.7 1613.1,722.2 1659.5,705.5 1706.0,694.3 1752.4,683.2 1798.8,677.6 1845.3,672.0 1891.7,672.0" fill="none" stroke="#ae9ddb" stroke-width="2.2" stroke-linejoin="round"  />
<polyline points="1520.2,872.9 1566.6,794.8 1613.1,755.7 1659.5,733.4 1706.0,705.5 1752.4,705.5 1798.8,694.3 1845.3,688.7 1891.7,683.2" fill="none" stroke="#5bb94b" stroke-width="2.2" stroke-linejoin="round"  />
<polyline points="1520.2,867.3 1566.6,805.9 1613.1,766.9 1659.5,744.5 1706.0,727.8 1752.4,722.2 1798.8,716.6 1845.3,705.5 1891.7,705.5" fill="none" stroke="#19a88b" stroke-width="2.2" stroke-linejoin="round"  />
<polyline points="1520.2,956.6 1566.6,895.2 1613.1,856.1 1659.5,833.8 1706.0,817.1 1752.4,805.9 1798.8,794.8 1845.3,789.2 1891.7,778.0" fill="none" stroke="#c8a32d" stroke-width="2.2" stroke-linejoin="round"  />
<line x1="1520.2" y1="734.8" x2="1520.2" y2="720.8" stroke="#0c0c0c" stroke-width="2.8" />
<line x1="1517.8" y1="734.8" x2="1522.6" y2="734.8" stroke="#0c0c0c" stroke-width="1.6" />
<line x1="1517.8" y1="720.8" x2="1522.6" y2="720.8" stroke="#0c0c0c" stroke-width="1.6" />
<circle cx="1520.2" cy="727.8" r="2.5" fill="#0c0c0c"/>
<line x1="1566.6" y1="679.3" x2="1566.6" y2="664.7" stroke="#0c0c0c" stroke-width="2.8" />
<line x1="1564.2" y1="679.3" x2="1569.0" y2="679.3" stroke="#0c0c0c" stroke-width="1.6" />
<line x1="1564.2" y1="664.7" x2="1569.0" y2="664.7" stroke="#0c0c0c" stroke-width="1.6" />
<circle cx="1566.6" cy="672.0" r="2.5" fill="#0c0c0c"/>
<line x1="1613.1" y1="658.6" x2="1613.1" y2="651.9" stroke="#0c0c0c" stroke-width="2.8" />
<line x1="1610.7" y1="658.6" x2="1615.5" y2="658.6" stroke="#0c0c0c" stroke-width="1.6" />
<line x1="1610.7" y1="651.9" x2="1615.5" y2="651.9" stroke="#0c0c0c" stroke-width="1.6" />
<circle cx="1613.1" cy="655.3" r="2.5" fill="#0c0c0c"/>
<line x1="1659.5" y1="641.3" x2="1659.5" y2="635.7" stroke="#0c0c0c" stroke-width="2.8" />
<line x1="1657.1" y1="641.3" x2="1661.9" y2="641.3" stroke="#0c0c0c" stroke-width="1.6" />
<line x1="1657.1" y1="635.7" x2="1661.9" y2="635.7" stroke="#0c0c0c" stroke-width="1.6" />
<circle cx="1659.5" cy="638.5" r="2.5" fill="#0c0c0c"/>
<line x1="1706.0" y1="635.7" x2="1706.0" y2="630.2" stroke="#0c0c0c" stroke-width="2.8" />
<line x1="1703.6" y1="635.7" x2="1708.4" y2="635.7" stroke="#0c0c0c" stroke-width="1.6" />
<line x1="1703.6" y1="630.2" x2="1708.4" y2="630.2" stroke="#0c0c0c" stroke-width="1.6" />
<circle cx="1706.0" cy="632.9" r="2.5" fill="#0c0c0c"/>
<line x1="1752.4" y1="630.2" x2="1752.4" y2="624.6" stroke="#0c0c0c" stroke-width="2.8" />
<line x1="1750.0" y1="630.2" x2="1754.8" y2="630.2" stroke="#0c0c0c" stroke-width="1.6" />
<line x1="1750.0" y1="624.6" x2="1754.8" y2="624.6" stroke="#0c0c0c" stroke-width="1.6" />
<circle cx="1752.4" cy="627.4" r="2.5" fill="#0c0c0c"/>
<line x1="1798.8" y1="624.0" x2="1798.8" y2="619.5" stroke="#0c0c0c" stroke-width="2.8" />
<line x1="1796.4" y1="624.0" x2="1801.2" y2="624.0" stroke="#0c0c0c" stroke-width="1.6" />
<line x1="1796.4" y1="619.5" x2="1801.2" y2="619.5" stroke="#0c0c0c" stroke-width="1.6" />
<circle cx="1798.8" cy="621.8" r="2.5" fill="#0c0c0c"/>
<line x1="1845.3" y1="618.4" x2="1845.3" y2="614.0" stroke="#0c0c0c" stroke-width="2.8" />
<line x1="1842.9" y1="618.4" x2="1847.7" y2="618.4" stroke="#0c0c0c" stroke-width="1.6" />
<line x1="1842.9" y1="614.0" x2="1847.7" y2="614.0" stroke="#0c0c0c" stroke-width="1.6" />
<circle cx="1845.3" cy="616.2" r="2.5" fill="#0c0c0c"/>
<line x1="1891.7" y1="618.2" x2="1891.7" y2="614.2" stroke="#0c0c0c" stroke-width="2.8" />
<line x1="1889.3" y1="618.2" x2="1894.1" y2="618.2" stroke="#0c0c0c" stroke-width="1.6" />
<line x1="1889.3" y1="614.2" x2="1894.1" y2="614.2" stroke="#0c0c0c" stroke-width="1.6" />
<circle cx="1891.7" cy="616.2" r="2.5" fill="#0c0c0c"/>
<line x1="1520.2" y1="767.4" x2="1520.2" y2="744.0" stroke="#0c0c0c" stroke-width="2.8" />
<line x1="1517.8" y1="767.4" x2="1522.6" y2="767.4" stroke="#0c0c0c" stroke-width="1.6" />
<line x1="1517.8" y1="744.0" x2="1522.6" y2="744.0" stroke="#0c0c0c" stroke-width="1.6" />
<circle cx="1520.2" cy="755.7" r="2.5" fill="#0c0c0c"/>
<line x1="1566.6" y1="697.7" x2="1566.6" y2="691.0" stroke="#0c0c0c" stroke-width="2.8" />
<line x1="1564.2" y1="697.7" x2="1569.0" y2="697.7" stroke="#0c0c0c" stroke-width="1.6" />
<line x1="1564.2" y1="691.0" x2="1569.0" y2="691.0" stroke="#0c0c0c" stroke-width="1.6" />
<circle cx="1566.6" cy="694.3" r="2.5" fill="#0c0c0c"/>
<line x1="1613.1" y1="675.3" x2="1613.1" y2="668.7" stroke="#0c0c0c" stroke-width="2.8" />
<line x1="1610.7" y1="675.3" x2="1615.5" y2="675.3" stroke="#0c0c0c" stroke-width="1.6" />
<line x1="1610.7" y1="668.7" x2="1615.5" y2="668.7" stroke="#0c0c0c" stroke-width="1.6" />
<circle cx="1613.1" cy="672.0" r="2.5" fill="#0c0c0c"/>
<line x1="1659.5" y1="659.2" x2="1659.5" y2="651.4" stroke="#0c0c0c" stroke-width="2.8" />
<line x1="1657.1" y1="659.2" x2="1661.9" y2="659.2" stroke="#0c0c0c" stroke-width="1.6" />
<line x1="1657.1" y1="651.4" x2="1661.9" y2="651.4" stroke="#0c0c0c" stroke-width="1.6" />
<circle cx="1659.5" cy="655.3" r="2.5" fill="#0c0c0c"/>
<line x1="1706.0" y1="648.0" x2="1706.0" y2="640.2" stroke="#0c0c0c" stroke-width="2.8" />
<line x1="1703.6" y1="648.0" x2="1708.4" y2="648.0" stroke="#0c0c0c" stroke-width="1.6" />
<line x1="1703.6" y1="640.2" x2="1708.4" y2="640.2" stroke="#0c0c0c" stroke-width="1.6" />
<circle cx="1706.0" cy="644.1" r="2.5" fill="#0c0c0c"/>
<line x1="1752.4" y1="641.3" x2="1752.4" y2="635.7" stroke="#0c0c0c" stroke-width="2.8" />
<line x1="1750.0" y1="641.3" x2="1754.8" y2="641.3" stroke="#0c0c0c" stroke-width="1.6" />
<line x1="1750.0" y1="635.7" x2="1754.8" y2="635.7" stroke="#0c0c0c" stroke-width="1.6" />
<circle cx="1752.4" cy="638.5" r="2.5" fill="#0c0c0c"/>
<line x1="1798.8" y1="635.2" x2="1798.8" y2="630.7" stroke="#0c0c0c" stroke-width="2.8" />
<line x1="1796.4" y1="635.2" x2="1801.2" y2="635.2" stroke="#0c0c0c" stroke-width="1.6" />
<line x1="1796.4" y1="630.7" x2="1801.2" y2="630.7" stroke="#0c0c0c" stroke-width="1.6" />
<circle cx="1798.8" cy="632.9" r="2.5" fill="#0c0c0c"/>
<line x1="1845.3" y1="635.2" x2="1845.3" y2="630.7" stroke="#0c0c0c" stroke-width="2.8" />
<line x1="1842.9" y1="635.2" x2="1847.7" y2="635.2" stroke="#0c0c0c" stroke-width="1.6" />
<line x1="1842.9" y1="630.7" x2="1847.7" y2="630.7" stroke="#0c0c0c" stroke-width="1.6" />
<circle cx="1845.3" cy="632.9" r="2.5" fill="#0c0c0c"/>
<line x1="1891.7" y1="629.3" x2="1891.7" y2="625.4" stroke="#0c0c0c" stroke-width="2.8" />
<line x1="1889.3" y1="629.3" x2="1894.1" y2="629.3" stroke="#0c0c0c" stroke-width="1.6" />
<line x1="1889.3" y1="625.4" x2="1894.1" y2="625.4" stroke="#0c0c0c" stroke-width="1.6" />
<circle cx="1891.7" cy="627.4" r="2.5" fill="#0c0c0c"/>
<line x1="1520.2" y1="809.3" x2="1520.2" y2="791.4" stroke="#0c0c0c" stroke-width="2.8" />
<line x1="1517.8" y1="809.3" x2="1522.6" y2="809.3" stroke="#0c0c0c" stroke-width="1.6" />
<line x1="1517.8" y1="791.4" x2="1522.6" y2="791.4" stroke="#0c0c0c" stroke-width="1.6" />
<circle cx="1520.2" cy="800.3" r="2.5" fill="#0c0c0c"/>
<line x1="1566.6" y1="742.3" x2="1566.6" y2="724.5" stroke="#0c0c0c" stroke-width="2.8" />
<line x1="1564.2" y1="742.3" x2="1569.0" y2="742.3" stroke="#0c0c0c" stroke-width="1.6" />
<line x1="1564.2" y1="724.5" x2="1569.0" y2="724.5" stroke="#0c0c0c" stroke-width="1.6" />
<circle cx="1566.6" cy="733.4" r="2.5" fill="#0c0c0c"/>
<line x1="1613.1" y1="706.6" x2="1613.1" y2="693.2" stroke="#0c0c0c" stroke-width="2.8" />
<line x1="1610.7" y1="706.6" x2="1615.5" y2="706.6" stroke="#0c0c0c" stroke-width="1.6" />
<line x1="1610.7" y1="693.2" x2="1615.5" y2="693.2" stroke="#0c0c0c" stroke-width="1.6" />
<circle cx="1613.1" cy="699.9" r="2.5" fill="#0c0c0c"/>
<line x1="1659.5" y1="687.1" x2="1659.5" y2="679.3" stroke="#0c0c0c" stroke-width="2.8" />
<line x1="1657.1" y1="687.1" x2="1661.9" y2="687.1" stroke="#0c0c0c" stroke-width="1.6" />
<line x1="1657.1" y1="679.3" x2="1661.9" y2="679.3" stroke="#0c0c0c" stroke-width="1.6" />
<circle cx="1659.5" cy="683.2" r="2.5" fill="#0c0c0c"/>
<line x1="1706.0" y1="674.8" x2="1706.0" y2="669.2" stroke="#0c0c0c" stroke-width="2.8" />
<line x1="1703.6" y1="674.8" x2="1708.4" y2="674.8" stroke="#0c0c0c" stroke-width="1.6" />
<line x1="1703.6" y1="669.2" x2="1708.4" y2="669.2" stroke="#0c0c0c" stroke-width="1.6" />
<circle cx="1706.0" cy="672.0" r="2.5" fill="#0c0c0c"/>
<line x1="1752.4" y1="669.2" x2="1752.4" y2="663.6" stroke="#0c0c0c" stroke-width="2.8" />
<line x1="1750.0" y1="669.2" x2="1754.8" y2="669.2" stroke="#0c0c0c" stroke-width="1.6" />
<line x1="1750.0" y1="663.6" x2="1754.8" y2="663.6" stroke="#0c0c0c" stroke-width="1.6" />
<circle cx="1752.4" cy="666.4" r="2.5" fill="#0c0c0c"/>
<line x1="1798.8" y1="657.5" x2="1798.8" y2="653.0" stroke="#0c0c0c" stroke-width="2.8" />
<line x1="1796.4" y1="657.5" x2="1801.2" y2="657.5" stroke="#0c0c0c" stroke-width="1.6" />
<line x1="1796.4" y1="653.0" x2="1801.2" y2="653.0" stroke="#0c0c0c" stroke-width="1.6" />
<circle cx="1798.8" cy="655.3" r="2.5" fill="#0c0c0c"/>
<line x1="1845.3" y1="657.5" x2="1845.3" y2="653.0" stroke="#0c0c0c" stroke-width="2.8" />
<line x1="1842.9" y1="657.5" x2="1847.7" y2="657.5" stroke="#0c0c0c" stroke-width="1.6" />
<line x1="1842.9" y1="653.0" x2="1847.7" y2="653.0" stroke="#0c0c0c" stroke-width="1.6" />
<circle cx="1845.3" cy="655.3" r="2.5" fill="#0c0c0c"/>
<line x1="1891.7" y1="651.6" x2="1891.7" y2="647.7" stroke="#0c0c0c" stroke-width="2.8" />
<line x1="1889.3" y1="651.6" x2="1894.1" y2="651.6" stroke="#0c0c0c" stroke-width="1.6" />
<line x1="1889.3" y1="647.7" x2="1894.1" y2="647.7" stroke="#0c0c0c" stroke-width="1.6" />
<circle cx="1891.7" cy="649.7" r="2.5" fill="#0c0c0c"/>
<line x1="1520.2" y1="825.5" x2="1520.2" y2="808.7" stroke="#0c0c0c" stroke-width="2.8" />
<line x1="1517.8" y1="825.5" x2="1522.6" y2="825.5" stroke="#0c0c0c" stroke-width="1.6" />
<line x1="1517.8" y1="808.7" x2="1522.6" y2="808.7" stroke="#0c0c0c" stroke-width="1.6" />
<circle cx="1520.2" cy="817.1" r="2.5" fill="#0c0c0c"/>
<line x1="1566.6" y1="760.7" x2="1566.6" y2="750.7" stroke="#0c0c0c" stroke-width="2.8" />
<line x1="1564.2" y1="760.7" x2="1569.0" y2="760.7" stroke="#0c0c0c" stroke-width="1.6" />
<line x1="1564.2" y1="750.7" x2="1569.0" y2="750.7" stroke="#0c0c0c" stroke-width="1.6" />
<circle cx="1566.6" cy="755.7" r="2.5" fill="#0c0c0c"/>
<line x1="1613.1" y1="726.1" x2="1613.1" y2="718.3" stroke="#0c0c0c" stroke-width="2.8" />
<line x1="1610.7" y1="726.1" x2="1615.5" y2="726.1" stroke="#0c0c0c" stroke-width="1.6" />
<line x1="1610.7" y1="718.3" x2="1615.5" y2="718.3" stroke="#0c0c0c" stroke-width="1.6" />
<circle cx="1613.1" cy="722.2" r="2.5" fill="#0c0c0c"/>
<line x1="1659.5" y1="708.8" x2="1659.5" y2="702.1" stroke="#0c0c0c" stroke-width="2.8" />
<line x1="1657.1" y1="708.8" x2="1661.9" y2="708.8" stroke="#0c0c0c" stroke-width="1.6" />
<line x1="1657.1" y1="702.1" x2="1661.9" y2="702.1" stroke="#0c0c0c" stroke-width="1.6" />
<circle cx="1659.5" cy="705.5" r="2.5" fill="#0c0c0c"/>
<line x1="1706.0" y1="697.7" x2="1706.0" y2="691.0" stroke="#0c0c0c" stroke-width="2.8" />
<line x1="1703.6" y1="697.7" x2="1708.4" y2="697.7" stroke="#0c0c0c" stroke-width="1.6" />
<line x1="1703.6" y1="691.0" x2="1708.4" y2="691.0" stroke="#0c0c0c" stroke-width="1.6" />
<circle cx="1706.0" cy="694.3" r="2.5" fill="#0c0c0c"/>
<line x1="1752.4" y1="686.0" x2="1752.4" y2="680.4" stroke="#0c0c0c" stroke-width="2.8" />
<line x1="1750.0" y1="686.0" x2="1754.8" y2="686.0" stroke="#0c0c0c" stroke-width="1.6" />
<line x1="1750.0" y1="680.4" x2="1754.8" y2="680.4" stroke="#0c0c0c" stroke-width="1.6" />
<circle cx="1752.4" cy="683.2" r="2.5" fill="#0c0c0c"/>
<line x1="1798.8" y1="679.8" x2="1798.8" y2="675.3" stroke="#0c0c0c" stroke-width="2.8" />
<line x1="1796.4" y1="679.8" x2="1801.2" y2="679.8" stroke="#0c0c0c" stroke-width="1.6" />
<line x1="1796.4" y1="675.3" x2="1801.2" y2="675.3" stroke="#0c0c0c" stroke-width="1.6" />
<circle cx="1798.8" cy="677.6" r="2.5" fill="#0c0c0c"/>
<line x1="1845.3" y1="674.2" x2="1845.3" y2="669.8" stroke="#0c0c0c" stroke-width="2.8" />
<line x1="1842.9" y1="674.2" x2="1847.7" y2="674.2" stroke="#0c0c0c" stroke-width="1.6" />
<line x1="1842.9" y1="669.8" x2="1847.7" y2="669.8" stroke="#0c0c0c" stroke-width="1.6" />
<circle cx="1845.3" cy="672.0" r="2.5" fill="#0c0c0c"/>
<line x1="1891.7" y1="674.0" x2="1891.7" y2="670.0" stroke="#0c0c0c" stroke-width="2.8" />
<line x1="1889.3" y1="674.0" x2="1894.1" y2="674.0" stroke="#0c0c0c" stroke-width="1.6" />
<line x1="1889.3" y1="670.0" x2="1894.1" y2="670.0" stroke="#0c0c0c" stroke-width="1.6" />
<circle cx="1891.7" cy="672.0" r="2.5" fill="#0c0c0c"/>
<line x1="1520.2" y1="884.0" x2="1520.2" y2="861.7" stroke="#0c0c0c" stroke-width="2.8" />
<line x1="1517.8" y1="884.0" x2="1522.6" y2="884.0" stroke="#0c0c0c" stroke-width="1.6" />
<line x1="1517.8" y1="861.7" x2="1522.6" y2="861.7" stroke="#0c0c0c" stroke-width="1.6" />
<circle cx="1520.2" cy="872.9" r="2.5" fill="#0c0c0c"/>
<line x1="1566.6" y1="803.1" x2="1566.6" y2="786.4" stroke="#0c0c0c" stroke-width="2.8" />
<line x1="1564.2" y1="803.1" x2="1569.0" y2="803.1" stroke="#0c0c0c" stroke-width="1.6" />
<line x1="1564.2" y1="786.4" x2="1569.0" y2="786.4" stroke="#0c0c0c" stroke-width="1.6" />
<circle cx="1566.6" cy="794.8" r="2.5" fill="#0c0c0c"/>
<line x1="1613.1" y1="762.7" x2="1613.1" y2="748.7" stroke="#0c0c0c" stroke-width="2.8" />
<line x1="1610.7" y1="762.7" x2="1615.5" y2="762.7" stroke="#0c0c0c" stroke-width="1.6" />
<line x1="1610.7" y1="748.7" x2="1615.5" y2="748.7" stroke="#0c0c0c" stroke-width="1.6" />
<circle cx="1613.1" cy="755.7" r="2.5" fill="#0c0c0c"/>
<line x1="1659.5" y1="739.0" x2="1659.5" y2="727.8" stroke="#0c0c0c" stroke-width="2.8" />
<line x1="1657.1" y1="739.0" x2="1661.9" y2="739.0" stroke="#0c0c0c" stroke-width="1.6" />
<line x1="1657.1" y1="727.8" x2="1661.9" y2="727.8" stroke="#0c0c0c" stroke-width="1.6" />
<circle cx="1659.5" cy="733.4" r="2.5" fill="#0c0c0c"/>
<line x1="1706.0" y1="709.9" x2="1706.0" y2="701.0" stroke="#0c0c0c" stroke-width="2.8" />
<line x1="1703.6" y1="709.9" x2="1708.4" y2="709.9" stroke="#0c0c0c" stroke-width="1.6" />
<line x1="1703.6" y1="701.0" x2="1708.4" y2="701.0" stroke="#0c0c0c" stroke-width="1.6" />
<circle cx="1706.0" cy="705.5" r="2.5" fill="#0c0c0c"/>
<line x1="1752.4" y1="708.8" x2="1752.4" y2="702.1" stroke="#0c0c0c" stroke-width="2.8" />
<line x1="1750.0" y1="708.8" x2="1754.8" y2="708.8" stroke="#0c0c0c" stroke-width="1.6" />
<line x1="1750.0" y1="702.1" x2="1754.8" y2="702.1" stroke="#0c0c0c" stroke-width="1.6" />
<circle cx="1752.4" cy="705.5" r="2.5" fill="#0c0c0c"/>
<line x1="1798.8" y1="697.1" x2="1798.8" y2="691.5" stroke="#0c0c0c" stroke-width="2.8" />
<line x1="1796.4" y1="697.1" x2="1801.2" y2="697.1" stroke="#0c0c0c" stroke-width="1.6" />
<line x1="1796.4" y1="691.5" x2="1801.2" y2="691.5" stroke="#0c0c0c" stroke-width="1.6" />
<circle cx="1798.8" cy="694.3" r="2.5" fill="#0c0c0c"/>
<line x1="1845.3" y1="691.0" x2="1845.3" y2="686.5" stroke="#0c0c0c" stroke-width="2.8" />
<line x1="1842.9" y1="691.0" x2="1847.7" y2="691.0" stroke="#0c0c0c" stroke-width="1.6" />
<line x1="1842.9" y1="686.5" x2="1847.7" y2="686.5" stroke="#0c0c0c" stroke-width="1.6" />
<circle cx="1845.3" cy="688.7" r="2.5" fill="#0c0c0c"/>
<line x1="1891.7" y1="685.1" x2="1891.7" y2="681.2" stroke="#0c0c0c" stroke-width="2.8" />
<line x1="1889.3" y1="685.1" x2="1894.1" y2="685.1" stroke="#0c0c0c" stroke-width="1.6" />
<line x1="1889.3" y1="681.2" x2="1894.1" y2="681.2" stroke="#0c0c0c" stroke-width="1.6" />
<circle cx="1891.7" cy="683.2" r="2.5" fill="#0c0c0c"/>
<line x1="1520.2" y1="881.3" x2="1520.2" y2="853.4" stroke="#0c0c0c" stroke-width="2.8" />
<line x1="1517.8" y1="881.3" x2="1522.6" y2="881.3" stroke="#0c0c0c" stroke-width="1.6" />
<line x1="1517.8" y1="853.4" x2="1522.6" y2="853.4" stroke="#0c0c0c" stroke-width="1.6" />
<circle cx="1520.2" cy="867.3" r="2.5" fill="#0c0c0c"/>
<line x1="1566.6" y1="818.2" x2="1566.6" y2="793.6" stroke="#0c0c0c" stroke-width="2.8" />
<line x1="1564.2" y1="818.2" x2="1569.0" y2="818.2" stroke="#0c0c0c" stroke-width="1.6" />
<line x1="1564.2" y1="793.6" x2="1569.0" y2="793.6" stroke="#0c0c0c" stroke-width="1.6" />
<circle cx="1566.6" cy="805.9" r="2.5" fill="#0c0c0c"/>
<line x1="1613.1" y1="777.5" x2="1613.1" y2="756.3" stroke="#0c0c0c" stroke-width="2.8" />
<line x1="1610.7" y1="777.5" x2="1615.5" y2="777.5" stroke="#0c0c0c" stroke-width="1.6" />
<line x1="1610.7" y1="756.3" x2="1615.5" y2="756.3" stroke="#0c0c0c" stroke-width="1.6" />
<circle cx="1613.1" cy="766.9" r="2.5" fill="#0c0c0c"/>
<line x1="1659.5" y1="747.9" x2="1659.5" y2="741.2" stroke="#0c0c0c" stroke-width="2.8" />
<line x1="1657.1" y1="747.9" x2="1661.9" y2="747.9" stroke="#0c0c0c" stroke-width="1.6" />
<line x1="1657.1" y1="741.2" x2="1661.9" y2="741.2" stroke="#0c0c0c" stroke-width="1.6" />
<circle cx="1659.5" cy="744.5" r="2.5" fill="#0c0c0c"/>
<line x1="1706.0" y1="730.0" x2="1706.0" y2="725.6" stroke="#0c0c0c" stroke-width="2.8" />
<line x1="1703.6" y1="730.0" x2="1708.4" y2="730.0" stroke="#0c0c0c" stroke-width="1.6" />
<line x1="1703.6" y1="725.6" x2="1708.4" y2="725.6" stroke="#0c0c0c" stroke-width="1.6" />
<circle cx="1706.0" cy="727.8" r="2.5" fill="#0c0c0c"/>
<line x1="1752.4" y1="724.5" x2="1752.4" y2="720.0" stroke="#0c0c0c" stroke-width="2.8" />
<line x1="1750.0" y1="724.5" x2="1754.8" y2="724.5" stroke="#0c0c0c" stroke-width="1.6" />
<line x1="1750.0" y1="720.0" x2="1754.8" y2="720.0" stroke="#0c0c0c" stroke-width="1.6" />
<circle cx="1752.4" cy="722.2" r="2.5" fill="#0c0c0c"/>
<line x1="1798.8" y1="718.9" x2="1798.8" y2="714.4" stroke="#0c0c0c" stroke-width="2.8" />
<line x1="1796.4" y1="718.9" x2="1801.2" y2="718.9" stroke="#0c0c0c" stroke-width="1.6" />
<line x1="1796.4" y1="714.4" x2="1801.2" y2="714.4" stroke="#0c0c0c" stroke-width="1.6" />
<circle cx="1798.8" cy="716.6" r="2.5" fill="#0c0c0c"/>
<line x1="1845.3" y1="707.7" x2="1845.3" y2="703.2" stroke="#0c0c0c" stroke-width="2.8" />
<line x1="1842.9" y1="707.7" x2="1847.7" y2="707.7" stroke="#0c0c0c" stroke-width="1.6" />
<line x1="1842.9" y1="703.2" x2="1847.7" y2="703.2" stroke="#0c0c0c" stroke-width="1.6" />
<circle cx="1845.3" cy="705.5" r="2.5" fill="#0c0c0c"/>
<line x1="1891.7" y1="707.4" x2="1891.7" y2="703.5" stroke="#0c0c0c" stroke-width="2.8" />
<line x1="1889.3" y1="707.4" x2="1894.1" y2="707.4" stroke="#0c0c0c" stroke-width="1.6" />
<line x1="1889.3" y1="703.5" x2="1894.1" y2="703.5" stroke="#0c0c0c" stroke-width="1.6" />
<circle cx="1891.7" cy="705.5" r="2.5" fill="#0c0c0c"/>
<line x1="1520.2" y1="968.3" x2="1520.2" y2="944.9" stroke="#0c0c0c" stroke-width="2.8" />
<line x1="1517.8" y1="968.3" x2="1522.6" y2="968.3" stroke="#0c0c0c" stroke-width="1.6" />
<line x1="1517.8" y1="944.9" x2="1522.6" y2="944.9" stroke="#0c0c0c" stroke-width="1.6" />
<circle cx="1520.2" cy="956.6" r="2.5" fill="#0c0c0c"/>
<line x1="1566.6" y1="900.2" x2="1566.6" y2="890.2" stroke="#0c0c0c" stroke-width="2.8" />
<line x1="1564.2" y1="900.2" x2="1569.0" y2="900.2" stroke="#0c0c0c" stroke-width="1.6" />
<line x1="1564.2" y1="890.2" x2="1569.0" y2="890.2" stroke="#0c0c0c" stroke-width="1.6" />
<circle cx="1566.6" cy="895.2" r="2.5" fill="#0c0c0c"/>
<line x1="1613.1" y1="861.2" x2="1613.1" y2="851.1" stroke="#0c0c0c" stroke-width="2.8" />
<line x1="1610.7" y1="861.2" x2="1615.5" y2="861.2" stroke="#0c0c0c" stroke-width="1.6" />
<line x1="1610.7" y1="851.1" x2="1615.5" y2="851.1" stroke="#0c0c0c" stroke-width="1.6" />
<circle cx="1613.1" cy="856.1" r="2.5" fill="#0c0c0c"/>
<line x1="1659.5" y1="839.4" x2="1659.5" y2="828.2" stroke="#0c0c0c" stroke-width="2.8" />
<line x1="1657.1" y1="839.4" x2="1661.9" y2="839.4" stroke="#0c0c0c" stroke-width="1.6" />
<line x1="1657.1" y1="828.2" x2="1661.9" y2="828.2" stroke="#0c0c0c" stroke-width="1.6" />
<circle cx="1659.5" cy="833.8" r="2.5" fill="#0c0c0c"/>
<line x1="1706.0" y1="822.1" x2="1706.0" y2="812.1" stroke="#0c0c0c" stroke-width="2.8" />
<line x1="1703.6" y1="822.1" x2="1708.4" y2="822.1" stroke="#0c0c0c" stroke-width="1.6" />
<line x1="1703.6" y1="812.1" x2="1708.4" y2="812.1" stroke="#0c0c0c" stroke-width="1.6" />
<circle cx="1706.0" cy="817.1" r="2.5" fill="#0c0c0c"/>
<line x1="1752.4" y1="809.8" x2="1752.4" y2="802.0" stroke="#0c0c0c" stroke-width="2.8" />
<line x1="1750.0" y1="809.8" x2="1754.8" y2="809.8" stroke="#0c0c0c" stroke-width="1.6" />
<line x1="1750.0" y1="802.0" x2="1754.8" y2="802.0" stroke="#0c0c0c" stroke-width="1.6" />
<circle cx="1752.4" cy="805.9" r="2.5" fill="#0c0c0c"/>
<line x1="1798.8" y1="798.1" x2="1798.8" y2="791.4" stroke="#0c0c0c" stroke-width="2.8" />
<line x1="1796.4" y1="798.1" x2="1801.2" y2="798.1" stroke="#0c0c0c" stroke-width="1.6" />
<line x1="1796.4" y1="791.4" x2="1801.2" y2="791.4" stroke="#0c0c0c" stroke-width="1.6" />
<circle cx="1798.8" cy="794.8" r="2.5" fill="#0c0c0c"/>
<line x1="1845.3" y1="791.4" x2="1845.3" y2="786.9" stroke="#0c0c0c" stroke-width="2.8" />
<line x1="1842.9" y1="791.4" x2="1847.7" y2="791.4" stroke="#0c0c0c" stroke-width="1.6" />
<line x1="1842.9" y1="786.9" x2="1847.7" y2="786.9" stroke="#0c0c0c" stroke-width="1.6" />
<circle cx="1845.3" cy="789.2" r="2.5" fill="#0c0c0c"/>
<line x1="1891.7" y1="780.0" x2="1891.7" y2="776.1" stroke="#0c0c0c" stroke-width="2.8" />
<line x1="1889.3" y1="780.0" x2="1894.1" y2="780.0" stroke="#0c0c0c" stroke-width="1.6" />
<line x1="1889.3" y1="776.1" x2="1894.1" y2="776.1" stroke="#0c0c0c" stroke-width="1.6" />
<circle cx="1891.7" cy="778.0" r="2.5" fill="#0c0c0c"/>
<rect x="1500.2" y="597.3" width="411.8" height="386.3" fill="none" stroke="#767676" stroke-width="1.4" />
<text x="1492.5" y="901.0" font-size="19.50" fill="#808080" stroke="#808080" stroke-width="0.27" text-anchor="end" >0.4</text>
<line x1="1496.2" y1="894.2" x2="1500.2" y2="894.2" stroke="#6e6e6e" stroke-width="1.4" />
<text x="1492.5" y="789.4" font-size="19.50" fill="#808080" stroke="#808080" stroke-width="0.27" text-anchor="end" >0.6</text>
<line x1="1496.2" y1="782.6" x2="1500.2" y2="782.6" stroke="#6e6e6e" stroke-width="1.4" />
<text x="1492.5" y="677.8" font-size="19.50" fill="#808080" stroke="#808080" stroke-width="0.27" text-anchor="end" >0.8</text>
<line x1="1496.2" y1="671.0" x2="1500.2" y2="671.0" stroke="#6e6e6e" stroke-width="1.4" />
<text x="1520.2" y="1006.8" font-size="19.50" fill="#808080" stroke="#808080" stroke-width="0.27" text-anchor="middle" >0.1</text>
<line x1="1520.2" y1="983.6" x2="1520.2" y2="987.6" stroke="#6e6e6e" stroke-width="1.4" />
<text x="1566.6" y="1006.8" font-size="19.50" fill="#808080" stroke="#808080" stroke-width="0.27" text-anchor="middle" >0.2</text>
<line x1="1566.6" y1="983.6" x2="1566.6" y2="987.6" stroke="#6e6e6e" stroke-width="1.4" />
<text x="1613.1" y="1006.8" font-size="19.50" fill="#808080" stroke="#808080" stroke-width="0.27" text-anchor="middle" >0.3</text>
<line x1="1613.1" y1="983.6" x2="1613.1" y2="987.6" stroke="#6e6e6e" stroke-width="1.4" />
<text x="1659.5" y="1006.8" font-size="19.50" fill="#808080" stroke="#808080" stroke-width="0.27" text-anchor="middle" >0.4</text>
<line x1="1659.5" y1="983.6" x2="1659.5" y2="987.6" stroke="#6e6e6e" stroke-width="1.4" />
<text x="1706.0" y="1006.8" font-size="19.50" fill="#808080" stroke="#808080" stroke-width="0.27" text-anchor="middle" >0.5</text>
<line x1="1706.0" y1="983.6" x2="1706.0" y2="987.6" stroke="#6e6e6e" stroke-width="1.4" />
<text x="1752.4" y="1006.8" font-size="19.50" fill="#808080" stroke="#808080" stroke-width="0.27" text-anchor="middle" >0.6</text>
<line x1="1752.4" y1="983.6" x2="1752.4" y2="987.6" stroke="#6e6e6e" stroke-width="1.4" />
<text x="1798.8" y="1006.8" font-size="19.50" fill="#808080" stroke="#808080" stroke-width="0.27" text-anchor="middle" >0.7</text>
<line x1="1798.8" y1="983.6" x2="1798.8" y2="987.6" stroke="#6e6e6e" stroke-width="1.4" />
<text x="1845.3" y="1006.8" font-size="19.50" fill="#808080" stroke="#808080" stroke-width="0.27" text-anchor="middle" >0.8</text>
<line x1="1845.3" y1="983.6" x2="1845.3" y2="987.6" stroke="#6e6e6e" stroke-width="1.4" />
<text x="1891.7" y="1006.8" font-size="19.50" fill="#808080" stroke="#808080" stroke-width="0.27" text-anchor="middle" >0.9</text>
<line x1="1891.7" y1="983.6" x2="1891.7" y2="987.6" stroke="#6e6e6e" stroke-width="1.4" />
<text x="1625.4" y="1034.6" font-size="24.56" fill="#111" stroke="#111" stroke-width="0.45" >Percentage sample</text>
<text transform="translate(1453.5 828.5) rotate(-90)" font-size="24.33" fill="#111" stroke="#111" stroke-width="0.16">AUPR value</text>
<line x1="1934.9" y1="735.8" x2="1951.2" y2="735.8" stroke="#f0877f" stroke-width="2.2" />
<circle cx="1943.3" cy="735.8" r="2.6" fill="#f0877f"/>
<text x="1956.0" y="739.2" font-size="19.20" fill="#111" stroke="#111" stroke-width="0.27" text-anchor="start" letter-spacing="0.45">H3K27ac</text>
<line x1="1934.9" y1="759.3" x2="1951.2" y2="759.3" stroke="#c8a32d" stroke-width="2.2" />
<circle cx="1943.3" cy="759.3" r="2.6" fill="#c8a32d"/>
<text x="1956.0" y="763.1" font-size="19.20" fill="#111" stroke="#111" stroke-width="0.27" text-anchor="start" letter-spacing="0.45">H3K4me1</text>
<line x1="1934.9" y1="782.9" x2="1951.2" y2="782.9" stroke="#5bb94b" stroke-width="2.2" />
<circle cx="1943.3" cy="782.9" r="2.6" fill="#5bb94b"/>
<text x="1956.0" y="786.7" font-size="19.20" fill="#111" stroke="#111" stroke-width="0.27" text-anchor="start" letter-spacing="0.45">H3K4me2</text>
<line x1="1934.9" y1="806.0" x2="1951.2" y2="806.0" stroke="#19a88b" stroke-width="2.2" />
<circle cx="1943.3" cy="806.0" r="2.6" fill="#19a88b"/>
<text x="1956.0" y="809.8" font-size="19.20" fill="#111" stroke="#111" stroke-width="0.27" text-anchor="start" letter-spacing="0.45">H3K4me3</text>
<line x1="1934.9" y1="829.6" x2="1951.2" y2="829.6" stroke="#1aaee5" stroke-width="2.2" />
<circle cx="1943.3" cy="829.6" r="2.6" fill="#1aaee5"/>
<text x="1956.0" y="833.4" font-size="19.20" fill="#111" stroke="#111" stroke-width="0.27" text-anchor="start" letter-spacing="0.45">H3K9ac</text>
<line x1="1934.9" y1="853.0" x2="1951.2" y2="853.0" stroke="#ae9ddb" stroke-width="2.2" />
<circle cx="1943.3" cy="853.0" r="2.6" fill="#ae9ddb"/>
<text x="1956.0" y="856.7" font-size="19.20" fill="#111" stroke="#111" stroke-width="0.27" text-anchor="start" letter-spacing="0.45">DHS</text>
<line x1="1934.9" y1="874.3" x2="1951.2" y2="874.3" stroke="#ec6fac" stroke-width="2.2" />
<circle cx="1943.3" cy="874.3" r="2.6" fill="#ec6fac"/>
<text x="1956.0" y="882.4" font-size="19.20" fill="#111" stroke="#111" stroke-width="0.27" text-anchor="start" letter-spacing="0.45">SVM</text>
</g>
</svg>
</body></html>
